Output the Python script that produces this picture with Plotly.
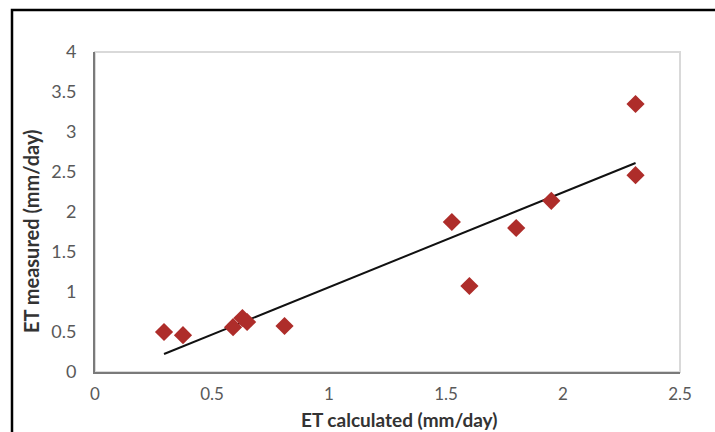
import numpy as np
import plotly.graph_objects as go

# Data
et_calculated = [0.295, 0.376, 0.59, 0.63, 0.65, 0.81, 1.525, 1.60, 1.80, 1.95, 2.31, 2.31]
et_measured = [0.50, 0.46, 0.56, 0.675, 0.625, 0.575, 1.875, 1.075, 1.80, 2.14, 2.46, 3.35]
x_ticks = [0, 0.5, 1, 1.5, 2, 2.5]
x_tick_labels = ["0", "0.5", "1", "1.5", "2", "2.5"]
y_ticks = [0, 0.5, 1, 1.5, 2, 2.5, 3, 3.5, 4]
y_tick_labels = ["0", "0.5", "1", "1.5", "2", "2.5", "3", "3.5", "4"]
x_title = "ET calculated (mm/day)"
y_title = "ET measured (mm/day)"

W, H = 715, 432
ML, MR, MT, MB = 95, 35, 52, 60
pw, ph = W - ML - MR, H - MT - MB


def px_x(p):
    return (p - ML) / pw


def px_y(p):
    return (H - MB - p) / ph


# linear trendline (least squares, as Excel)
slope, intercept = np.polyfit(et_calculated, et_measured, 1)
xl = np.array([min(et_calculated), max(et_calculated)])
yl = slope * xl + intercept

fig = go.Figure()
fig.add_trace(go.Scatter(
    x=xl, y=yl, mode="lines",
    line=dict(color="#111111", width=2), showlegend=False, hoverinfo="skip"))
fig.add_trace(go.Scatter(
    x=et_calculated, y=et_measured, mode="markers",
    marker=dict(symbol="diamond", size=14, color="#AE2D2A", line=dict(width=0)),
    showlegend=False))

font_family = "Lato, Open Sans, sans-serif"
title_font = dict(size=19, color="#333333", family=font_family)

fig.update_layout(
    width=W, height=H,
    margin=dict(l=ML, r=MR, t=MT, b=MB, pad=0),
    paper_bgcolor="white", plot_bgcolor="white",
    font=dict(family=font_family),
    xaxis=dict(
        range=[0, 2.5], tickvals=x_ticks, ticktext=x_tick_labels,
        showgrid=False, zeroline=False, automargin=False,
        showline=True, linecolor="#7a7a7a", linewidth=2,
        ticks="", ticklabelstandoff=6,
        tickfont=dict(size=17, color="#595959", family=font_family),
    ),
    yaxis=dict(
        range=[0, 4], tickvals=y_ticks, ticktext=y_tick_labels,
        showgrid=False, zeroline=False, automargin=False,
        showline=True, linecolor="#7a7a7a", linewidth=2,
        ticks="", ticklabelstandoff=13,
        tickfont=dict(size=18, color="#595959", family=font_family),
    ),
    annotations=[
        dict(text="<b>" + x_title + "</b>", xref="paper", yref="paper",
             x=px_x(399), y=px_y(419), xanchor="center", yanchor="middle",
             showarrow=False, font=title_font),
        dict(text="<b>" + y_title + "</b>", xref="paper", yref="paper",
             x=px_x(31), y=px_y(231), xanchor="center", yanchor="middle",
             textangle=-90, showarrow=False, font=dict(size=20, color="#333333", family=font_family)),
    ],
    shapes=[
        # faint plot-area border
        dict(type="rect", xref="paper", yref="paper", x0=0, y0=0, x1=1, y1=1,
             line=dict(color="#d9d9d9", width=2), layer="below"),
        # outer black frame (partially cropped in reference)
        dict(type="rect", xref="paper", yref="paper",
             x0=px_x(12), x1=px_x(W + 20),
             y0=px_y(H + 20), y1=px_y(10),
             line=dict(color="#000000", width=2.5), layer="below"),
    ],
)

fig.write_html("out.html")
